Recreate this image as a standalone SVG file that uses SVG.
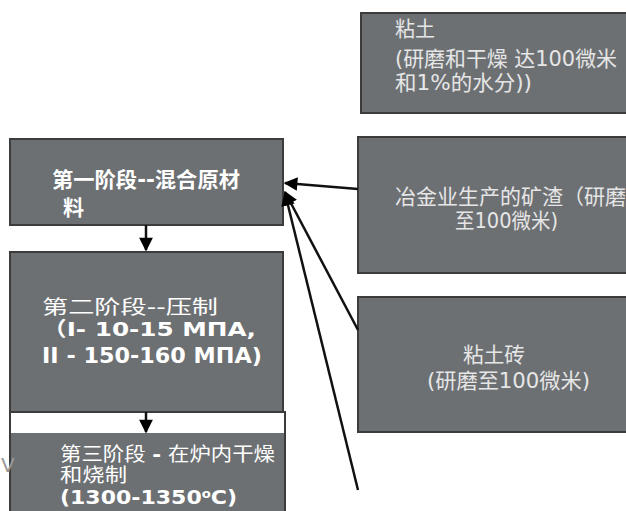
<svg xmlns="http://www.w3.org/2000/svg" width="626" height="511" viewBox="0 0 626 511">
<style>
.box{fill:#6d7073;stroke:#3c3c3c;stroke-width:2}
.t{font-family:"DejaVu Sans","Noto Sans CJK SC",sans-serif;fill:#ffffff}
.lt{font-family:"DejaVu Sans","Noto Sans CJK SC",sans-serif;fill:#e6e6e6;font-weight:normal}
.b{font-weight:bold}
.con{stroke:#111;stroke-width:2.5;fill:none}
</style>
<defs>
<marker id="ah" viewBox="0 0 10 10" refX="9" refY="5" markerWidth="6.5" markerHeight="5.5" markerUnits="strokeWidth" orient="auto">
<path d="M0,0 L10,5 L0,10 z" fill="#000"/>
</marker>
</defs>
<rect width="626" height="511" fill="#ffffff"/>
<g id="node-clay">
<rect class="box" x="361" y="13" width="270" height="100"/>
<text class="lt" x="395" y="36" font-size="21" textLength="40" lengthAdjust="spacingAndGlyphs">粘土</text>
<text class="lt" x="395" y="66" font-size="21" textLength="222" lengthAdjust="spacingAndGlyphs">(研磨和干燥 达100微米</text>
<text class="lt" x="395" y="90" font-size="21" textLength="137" lengthAdjust="spacingAndGlyphs">和1%的水分))</text>
</g>
<g id="node-slag">
<rect class="box" x="358" y="137" width="273" height="136"/>
<text class="lt" x="395" y="204" font-size="21" textLength="231" lengthAdjust="spacingAndGlyphs">冶金业生产的矿渣（研磨</text>
<text class="lt" x="455" y="228" font-size="21" textLength="103" lengthAdjust="spacingAndGlyphs">至100微米)</text>
</g>
<g id="node-brick">
<rect class="box" x="358" y="297" width="273" height="135"/>
<text class="lt" x="463" y="362" font-size="21" textLength="62" lengthAdjust="spacingAndGlyphs">粘土砖</text>
<text class="lt" x="427" y="388" font-size="21" textLength="163" lengthAdjust="spacingAndGlyphs">(研磨至100微米)</text>
</g>
<g id="node-stage1">
<rect class="box" x="10" y="139" width="273" height="86"/>
<text class="t b" x="52" y="187" font-size="21" textLength="188" lengthAdjust="spacingAndGlyphs">第一阶段--混合原材</text>
<text class="t b" x="63" y="215" font-size="21">料</text>
</g>
<g id="node-stage2">
<rect class="box" x="10" y="252" width="273" height="160"/>
<text class="t" x="42" y="314" font-size="19" textLength="176" lengthAdjust="spacingAndGlyphs">第二阶段--压制</text>
<text class="t b" x="42" y="336" font-size="20" textLength="214" lengthAdjust="spacingAndGlyphs">（I- 10-15 МПА,</text>
<text class="t b" x="42" y="363" font-size="21" textLength="220" lengthAdjust="spacingAndGlyphs">II - 150-160 МПА)</text>
</g>
<g id="node-stage3">
<rect x="10" y="412" width="275" height="104" fill="#ffffff" stroke="#3c3c3c" stroke-width="2"/>
<rect x="11" y="433" width="273" height="80" fill="#6d7073"/>
<text class="t" x="60" y="461" font-size="19" textLength="215" lengthAdjust="spacingAndGlyphs">第三阶段 <tspan class="b">-</tspan> 在炉内干燥</text>
<text class="t" x="60" y="482" font-size="19" textLength="67" lengthAdjust="spacingAndGlyphs">和烧制</text>
<text class="t b" x="60" y="504" font-size="20" textLength="177" lengthAdjust="spacingAndGlyphs">(1300-1350<tspan font-size="12" dy="-6">o</tspan><tspan dy="6">C)</tspan></text>
</g>
<text x="1" y="472" font-family="DejaVu Sans, sans-serif" font-size="20" fill="#999">V</text>
<g id="connectors">
<line class="con" x1="146" y1="225" x2="146" y2="250" marker-end="url(#ah)"/>
<line class="con" x1="146" y1="412" x2="146" y2="432" marker-end="url(#ah)"/>
<line class="con" x1="358" y1="189" x2="285" y2="183" marker-end="url(#ah)"/>
<line class="con" x1="358" y1="330" x2="285" y2="192" marker-end="url(#ah)"/>
<line class="con" x1="358" y1="490" x2="285" y2="193" marker-end="url(#ah)"/>
</g>
</svg>
